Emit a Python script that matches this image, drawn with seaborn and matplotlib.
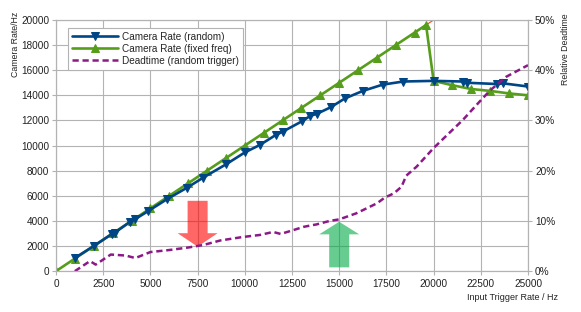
import matplotlib
matplotlib.use("Agg")
import matplotlib.pyplot as plt
import matplotlib.ticker as mticker
import seaborn as sns

# measured camera rate for random triggers (input Hz, output Hz)
random_in = [1000, 2000, 2950, 3100, 3900, 4200, 4850, 5900, 6950, 7800, 9000,
             10000, 10800, 11650, 12000, 13050, 13450, 13850, 14550, 15300,
             16250, 17300, 18400, 20000, 21550, 21750, 23350, 23700, 25000]
random_out = [1050, 2000, 2950, 3050, 3900, 4150, 4750, 5750, 6650, 7450, 8500,
              9450, 10050, 10850, 11100, 11950, 12350, 12550, 13050, 13750,
              14350, 14850, 15100, 15150, 15100, 15000, 14900, 14950, 14700]

# camera rate for fixed frequency triggers
fixed_in = [0, 1000, 2000, 3000, 4000, 5000, 6000, 7000, 8000, 9000, 10000,
            11000, 12000, 13000, 14000, 15000, 16000, 17000, 18000, 19000,
            19600, 20000, 21000, 22000, 23000, 24000, 25000]
fixed_out = [0, 1000, 2000, 3000, 4000, 5000, 6000, 7000, 8000, 9000, 10000,
             11000, 12000, 13000, 14000, 15000, 16000, 17000, 18000, 19000,
             19600, 15150, 14800, 14500, 14350, 14150, 14000]

# relative deadtime (%) with random triggers
dead_in = [1000, 1800, 2100, 2900, 3700, 4200, 5000, 6000, 7000, 7800, 8700,
           9900, 10800, 11500, 11900, 12600, 13100, 13500, 13800, 14500, 15000,
           15900, 17000, 17400, 17900, 18300, 18550, 19100, 20000, 20800,
           21550, 22350, 23000, 23850, 25000]
dead_pct = [0.0, 2.0, 1.3, 3.3, 3.1, 2.6, 3.8, 4.2, 4.7, 5.2, 6.1,
            6.8, 7.2, 7.8, 7.4, 8.2, 8.8, 9.1, 9.3, 10.0, 10.3,
            11.5, 13.5, 14.6, 15.5, 16.8, 19.0, 20.8, 24.5, 27.4,
            30.1, 33.4, 36.0, 38.7, 41.0]

ideal = [0, 20000]

BLUE = "#004586"
GREEN = "#579d1c"
PURPLE = "#8b1a87"
GRID = "#b3b3b3"

sns.set_theme(style="whitegrid")
plt.rcParams["font.family"] = ["Liberation Sans", "DejaVu Sans"]

fig, ax = plt.subplots(figsize=(5.81, 3.12), dpi=100)
fig.subplots_adjust(left=0.0964, right=0.9088, bottom=0.131, top=0.936)
ax2 = ax.twinx()

sns.lineplot(x=ideal, y=ideal, ax=ax, color="#ff420e", linewidth=0.8, zorder=1)
sns.lineplot(x=random_in, y=random_out, ax=ax, sort=False, estimator=None,
             color=BLUE, linewidth=1.9, marker="v", markersize=5.6,
             markeredgecolor=BLUE, label="Camera Rate (random)", zorder=3)
sns.lineplot(x=fixed_in, y=fixed_out, ax=ax, sort=False, estimator=None,
             color=GREEN, linewidth=1.9, marker="^", markersize=5.6,
             markeredgecolor=GREEN, label="Camera Rate (fixed freq)", zorder=2)
sns.lineplot(x=dead_in, y=dead_pct, ax=ax2, sort=False, estimator=None,
             color=PURPLE, linewidth=1.8, dashes=False,
             label="Deadtime (random trigger)")
ax2.lines[-1].set_dashes((2.5, 1.5))

# arrows marking the interesting points
ax.arrow(7500, 5600, 0, -3650, width=1060, head_width=2120, head_length=1070,
         length_includes_head=True, color="#ff0000", alpha=0.6, lw=0, zorder=4)
ax.arrow(15000, 300, 0, 3630, width=1060, head_width=2120, head_length=1000,
         length_includes_head=True, color="#00aa44", alpha=0.6, lw=0, zorder=4)

ax.set_xlim(0, 25000)
ax.set_ylim(0, 20000)
ax2.set_ylim(0, 50)
ax.set_xticks(range(0, 25001, 2500))
ax.set_yticks(range(0, 20001, 2000))
ax2.set_yticks(range(0, 51, 10))
ax2.yaxis.set_major_formatter(mticker.FuncFormatter(lambda v, _: f"{v:.0f}%"))
ax2.grid(False)
ax.grid(True, color=GRID, linewidth=0.8)
ax.set_xlabel("")
ax.set_ylabel("")
ax2.set_ylabel("")

for a in (ax, ax2):
    for s in a.spines.values():
        s.set_color(GRID)
        s.set_linewidth(0.8)
    a.tick_params(labelsize=7.2, colors="#222222", length=3, width=0.8,
                  color=GRID, pad=2)
ax.tick_params(axis="both", direction="out", left=True, bottom=True)
ax.tick_params(axis="x", pad=3)
ax2.tick_params(axis="y", direction="out", right=True)

h1, l1 = ax.get_legend_handles_labels()
h2, l2 = ax2.get_legend_handles_labels()
if ax2.get_legend():
    ax2.get_legend().remove()
leg = ax.legend(h1 + h2, l1 + l2, loc="upper left", bbox_to_anchor=(0.025, 0.97),
                borderaxespad=0, fontsize=7.2, handlelength=4.6, frameon=True,
                fancybox=False, framealpha=1, edgecolor=GRID,
                borderpad=0.4, labelspacing=0.2, handletextpad=0.4)
leg.get_frame().set_linewidth(0.8)
leg.set_zorder(10)

fig.text(15 / 581, 1 - 44 / 312, "Camera Rate/Hz", rotation=90,
         ha="center", va="center", fontsize=6.3, color="#222222")
fig.text(565 / 581, 1 - 49 / 312, "Relative Deadtime", rotation=90,
         ha="center", va="center", fontsize=6.3, color="#222222")
fig.text(558 / 581, 1 - 298 / 312, "Input Trigger Rate / Hz",
         ha="right", va="center", fontsize=6.5, color="#222222")

fig.savefig("out.png", dpi=100)
